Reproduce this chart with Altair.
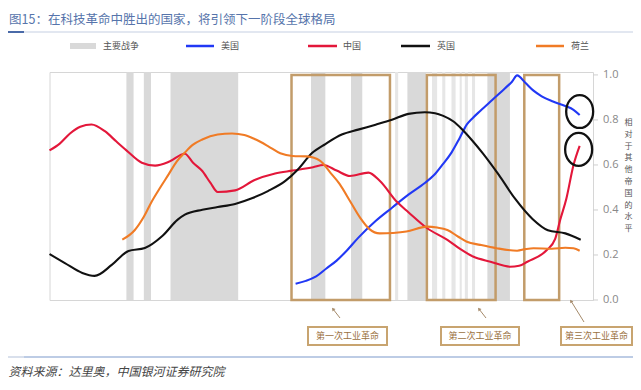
import altair as alt
import pandas as pd

# ---------------- data ----------------
TITLE = "图15：在科技革命中胜出的国家，将引领下一阶段全球格局"
SOURCE = "资料来源：达里奥，中国银河证券研究院"
LEGEND_LABELS = ["主要战争", "美国", "中国", "英国", "荷兰"]
COUNTRIES = ["美国", "中国", "英国", "荷兰"]
COLORS = ["#2138f5", "#e3173a", "#111111", "#f07b25"]
RIGHT_TITLE = "相对于其他帝国的水平"
REV_LABELS = ["第一次工业革命", "第二次工业革命", "第三次工业革命"]
X_TICKS = [1500, 1550, 1600, 1650, 1700, 1750, 1800, 1850, 1900, 1950, 2000]
Y_TICKS = [0.0, 0.2, 0.4, 0.6, 0.8, 1.0]
Y_TICK_LABELS = ["0.0", "0.2", "0.4", "0.6", "0.8", "1.0"]

us_years = [1740, 1750, 1760, 1770, 1780, 1790, 1801, 1818, 1834, 1850, 1866, 1875, 1883, 1892,
            1900, 1907, 1913, 1920, 1932, 1944, 1951, 1956, 1964, 1972, 1980, 1991, 2003, 2011, 2017]
us_vals = [0.072, 0.085, 0.105, 0.14, 0.175, 0.22, 0.276, 0.351, 0.41, 0.468, 0.52, 0.555, 0.6, 0.655,
           0.72, 0.78, 0.81, 0.84, 0.89, 0.94, 0.97, 0.998, 0.965, 0.93, 0.905, 0.882, 0.862, 0.845, 0.822]

cn_years = [1500, 1510, 1520, 1530, 1541, 1554, 1565, 1575, 1590, 1603, 1617, 1632, 1640, 1649, 1657,
            1664, 1681, 1700, 1720, 1737, 1757, 1767, 1780, 1793, 1811, 1822, 1839, 1850, 1868, 1888,
            1900, 1913, 1930, 1949, 1958, 1966, 1985, 1993, 1998, 2004, 2011, 2017]
cn_vals = [0.665, 0.695, 0.74, 0.77, 0.78, 0.75, 0.705, 0.665, 0.61, 0.597, 0.615, 0.65, 0.61, 0.573, 0.52,
           0.48, 0.487, 0.533, 0.562, 0.575, 0.59, 0.60, 0.575, 0.551, 0.566, 0.53, 0.435, 0.39, 0.32, 0.267,
           0.228, 0.193, 0.17, 0.148, 0.152, 0.17, 0.222, 0.27, 0.356, 0.45, 0.6, 0.685]

uk_years = [1500, 1515, 1532, 1544, 1561, 1577, 1593, 1610, 1625, 1632, 1649, 1664, 1681, 1698, 1713,
            1730, 1742, 1756, 1769, 1785, 1801, 1818, 1834, 1850, 1866, 1876, 1884, 1894, 1902, 1912,
            1922, 1938, 1954, 1971, 1986, 2003, 2018]
uk_vals = [0.204, 0.164, 0.12, 0.107, 0.157, 0.218, 0.231, 0.284, 0.357, 0.379, 0.401, 0.413, 0.427, 0.453, 0.484,
           0.529, 0.579, 0.653, 0.693, 0.735, 0.757, 0.779, 0.801, 0.827, 0.834, 0.83, 0.818, 0.793, 0.76, 0.71,
           0.655, 0.557, 0.45, 0.36, 0.31, 0.296, 0.268]

nl_years = [1571, 1583, 1592, 1600, 1608, 1616, 1624, 1632, 1640, 1649, 1664, 1678, 1690, 1700, 1713,
            1725, 1737, 1751, 1764, 1774, 1783, 1793, 1803, 1812, 1822, 1835, 1848, 1868, 1878, 1888,
            1899, 1907, 1920, 1936, 1956, 1964, 1972, 1990, 2003, 2011, 2017]
nl_vals = [0.268, 0.31, 0.37, 0.44, 0.5, 0.557, 0.615, 0.655, 0.69, 0.713, 0.735, 0.74, 0.733, 0.715, 0.684,
           0.652, 0.64, 0.638, 0.618, 0.565, 0.515, 0.44, 0.365, 0.315, 0.296, 0.298, 0.304, 0.326, 0.322, 0.311,
           0.28, 0.259, 0.245, 0.23, 0.219, 0.226, 0.23, 0.228, 0.232, 0.23, 0.219]

war_start = [1575, 1592, 1618, 1755, 1794, 1849, 1927]
war_end = [1582, 1599, 1684, 1769, 1805, 1867, 1949]
minor_war_start = [1837, 1873, 1883, 1892, 1900, 1905, 1912]
minor_war_end = [1840, 1878, 1886, 1896, 1902, 1908, 1915]

rev_start = [1736, 1868, 1963]
rev_end = [1832, 1935, 1997]

circle_years = [2017, 2016]
circle_vals = [0.8375, 0.669]

# ---------------- tables ----------------
rows = []
for name, ys, vs in [("美国", us_years, us_vals), ("中国", cn_years, cn_vals),
                     ("英国", uk_years, uk_vals), ("荷兰", nl_years, nl_vals)]:
    for yr, v in zip(ys, vs):
        rows.append({"country": name, "year": yr, "value": v})
lines_df = pd.DataFrame(rows)
wars_df = pd.DataFrame({"start": war_start, "end": war_end})
minor_df = pd.DataFrame({"start": minor_war_start, "end": minor_war_end})
rev_df = pd.DataFrame({"start": rev_start, "end": rev_end, "top": [1.0] * 3, "bottom": [0.0] * 3})
circ_df = pd.DataFrame({"year": circle_years, "value": circle_vals})
ytick_df = pd.DataFrame({"v": Y_TICKS, "label": Y_TICK_LABELS})
one = pd.DataFrame({"k": [0]})

W, H = 543.5, 228
x_scale = alt.Scale(domain=[1500, 2030], nice=False, zero=False)
y_scale = alt.Scale(domain=[0, 1.013], nice=False, zero=False)
CJK = "Noto Sans CJK SC"

wars = alt.Chart(wars_df).mark_rect(color="#d9d9d9").encode(
    x=alt.X("start:Q", scale=x_scale, axis=None), x2="end:Q",
    y=alt.value(0), y2=alt.value(H))
minor = alt.Chart(minor_df).mark_rect(color="#e6e6e6").encode(
    x=alt.X("start:Q", scale=x_scale, axis=None), x2="end:Q",
    y=alt.value(0), y2=alt.value(H))
revs = alt.Chart(rev_df).mark_rect(filled=False, stroke="#c29c6a", strokeWidth=2.5).encode(
    x=alt.X("start:Q", scale=x_scale, axis=None), x2="end:Q",
    y=alt.Y("top:Q", scale=y_scale, axis=None), y2="bottom:Q")

lines = alt.Chart(lines_df).mark_line(strokeWidth=2.1, interpolate="monotone").encode(
    x=alt.X("year:Q", scale=x_scale,
            axis=alt.Axis(values=X_TICKS, format="d", title=None, grid=False, labelFont="Open Sans",
                          labelFontSize=11, labelColor="#777", tickColor="#cfcfcf", tickSize=5,
                          domainColor="#dddddd", labelPadding=4)),
    y=alt.Y("value:Q", scale=y_scale, axis=None),
    color=alt.Color("country:N", scale=alt.Scale(domain=COUNTRIES, range=COLORS), legend=None),
    detail="country:N")

# right-hand value axis (ticks + labels driven by the y scale)
ytick_marks = alt.Chart(ytick_df).mark_rule(color="#cfcfcf", strokeWidth=1).encode(
    y=alt.Y("v:Q", scale=y_scale, axis=None), x=alt.value(W), x2=alt.value(W + 5))
ytick_text = alt.Chart(ytick_df).mark_text(align="left", baseline="middle", font="Open Sans",
                                           fontSize=11, color="#888").encode(
    y=alt.Y("v:Q", scale=y_scale, axis=None), x=alt.value(W + 10), text="label:N")

ellipse = "M-1,0 A1,1.22 0 1,1 1,0 A1,1.22 0 1,1 -1,0 Z"
circles = alt.Chart(circ_df).mark_point(shape=ellipse, size=729, filled=False, stroke="#111",
                                         strokeWidth=2.3, opacity=1).encode(
    x=alt.X("year:Q", scale=x_scale, axis=None), y=alt.Y("value:Q", scale=y_scale, axis=None))


def txt(s, x, y, **kw):
    return alt.Chart(one).mark_text(**kw).encode(x=alt.value(x), y=alt.value(y), text=alt.value(s))


def rule(x1, x2, y1, y2, color, width):
    return alt.Chart(one).mark_rule(color=color, strokeWidth=width).encode(
        x=alt.value(x1), x2=alt.value(x2), y=alt.value(y1), y2=alt.value(y2))


deco = []
# title + underline
deco.append(txt(TITLE, -40.5, -52, align="left", baseline="middle", font=CJK, fontSize=12.5, color="#5674ab"))
deco.append(rule(-41.5, 583.5, -40, -40, "#c5cfe2", 1))
deco.append(rule(-41.5, -25.5, -40, -40, "#4a6aa8", 2))
# legend
LY = -26
deco.append(alt.Chart(one).mark_rect(color="#d9d9d9").encode(
    x=alt.value(20.5), x2=alt.value(46.5), y=alt.value(LY - 3), y2=alt.value(LY + 3)))
legend_line_x = [(136.5, 164.5), (258.5, 287.5), (351.5, 380.5), (486.5, 514.5)]
legend_text_x = [53.5, 171.5, 293.5, 387.5, 521.5]
for (a, b), c in zip(legend_line_x, COLORS):
    deco.append(rule(a, b, LY, LY, c, 2.5))
for lbl, xx in zip(LEGEND_LABELS, legend_text_x):
    deco.append(txt(lbl, xx, LY, align="left", baseline="middle", font=CJK, fontSize=9, color="#555"))
# right vertical title (one character per line)
deco.append(txt(list(RIGHT_TITLE), 579, 47, align="center", baseline="top", font=CJK,
                fontSize=8, lineHeight=11.8, color="#555"))
# revolution label boxes
box_x = [(258.5, 337.5), (391.5, 469.5), (511.5, 582.5)]
for (a, b), lbl in zip(box_x, REV_LABELS):
    deco.append(alt.Chart(one).mark_rect(fill="white", stroke="#c8a470", strokeWidth=2).encode(
        x=alt.value(a), x2=alt.value(b), y=alt.value(255), y2=alt.value(273)))
    deco.append(txt(lbl, (a + b) / 2, 264, align="center", baseline="middle", font=CJK,
                    fontSize=9, color="#9a7040"))
# arrows
arrows = [((290.5, 246), (283.5, 237), 322), ((436.5, 246), (429.5, 237), 322), ((534.5, 250), (521.5, 229), 328)]
for (p0, p1, ang) in arrows:
    deco.append(rule(p0[0], p1[0], p0[1], p1[1], "#a58a6a", 1))
    deco.append(alt.Chart(one).mark_point(shape="triangle-up", size=14, filled=True, color="#a58a6a",
                                          angle=ang, opacity=1).encode(
        x=alt.value(p1[0]), y=alt.value(p1[1])))
# source
deco.append(rule(-41.5, -25.5, 285, 285, "#cdd6e6", 1.5))
deco.append(rule(-25.5, 583.5, 285, 285, "#7d9acb", 1.2))
deco.append(txt(SOURCE, -41, 300, align="left", baseline="middle", font=CJK, fontSize=12,
                fontStyle="italic", color="#444"))

chart = alt.layer(wars, minor, revs, lines, circles, ytick_marks, ytick_text, *deco).properties(
    width=W, height=H,
    autosize=alt.AutoSizeParams(type="none"),
    padding={"left": 41.5, "top": 64, "right": 40, "bottom": 82},
    background="white",
).configure_view(stroke="#d6d6d6")

chart.save("out.html", embed_options={"renderer": "svg", "actions": False})
